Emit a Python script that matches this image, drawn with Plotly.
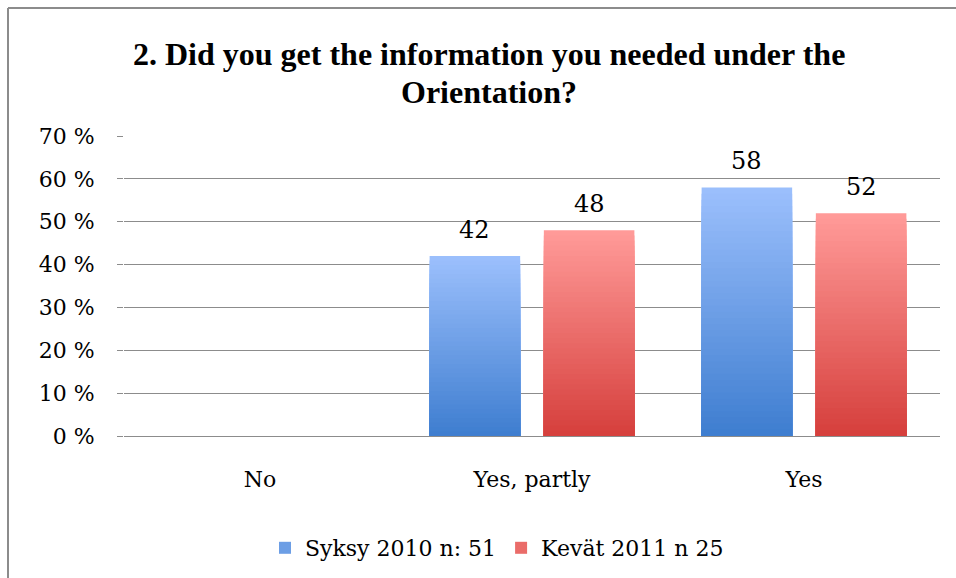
import plotly.graph_objects as go

categories = ["No", "Yes, partly", "Yes"]
series_names = ["Syksy 2010 n: 51", "Kevät 2011 n 25"]
syksy_2010 = [0, 42, 58]
kevat_2011 = [0, 48, 52]
y_tick_values = [0, 10, 20, 30, 40, 50, 60, 70]
y_tick_labels = ["0 %", "10 %", "20 %", "30 %", "40 %", "50 %", "60 %", "70 %"]
title_line1 = "2. Did you get the information you needed under the"
title_line2 = "Orientation?"

series_values = [syksy_2010, kevat_2011]
top_colors = [(155, 191, 252), (255, 154, 152)]
bottom_colors = [(63, 126, 208), (214, 64, 61)]

N = 40
W, H = 956, 578
L, R, T, B = 124, 16, 136, 142
pw, ph = W - L - R, H - T - B

def px_x(x):
    return (x - L) / pw

def px_y(y):
    return (H - B - y) / ph

def lerp(c1, c2, t):
    return "rgb(%d,%d,%d)" % tuple(round(a + (b - a) * t) for a, b in zip(c1, c2))

serif = "DejaVu Serif"
title_font = "Liberation Serif, Times New Roman, serif"
fig = go.Figure()
for s, (name, vals) in enumerate(zip(series_names, series_values)):
    for i in range(N):
        frac = (N - i) / N
        t = i / (N - 1)
        fig.add_trace(go.Bar(
            x=categories,
            y=[v * frac for v in vals],
            name=name,
            offsetgroup=str(s),
            legendgroup=str(s),
            showlegend=(i == N // 2),
            marker=dict(color=lerp(top_colors[s], bottom_colors[s], t), line=dict(width=0)),
            hoverinfo="skip" if i else "x+y+name",
        ))

# data labels above bars
bargap, bargroupgap = 0.16, 0.2075
cat_px = pw / len(categories)
slot_px = cat_px * (1 - bargap) / 2
for s, vals in enumerate(series_values):
    shift = (s - 0.5) * slot_px
    for c, v in zip(categories, vals):
        if v:
            fig.add_annotation(x=c, y=v, text=str(v), showarrow=False, xshift=shift,
                               yanchor="bottom", yshift=10,
                               font=dict(family=serif, size=24, color="#000000"))

# title as two centred lines
for text, cy in ((title_line1, 54), (title_line2, 92)):
    fig.add_annotation(xref="paper", yref="paper", x=px_x(489), y=px_y(cy),
                       xanchor="center", yanchor="middle", showarrow=False,
                       text="<b>" + text + "</b>",
                       font=dict(family=title_font, size=32, color="#000000", weight="bold"))

fig.update_layout(
    width=W, height=H,
    margin=dict(l=L, r=R, t=T, b=B, autoexpand=False),
    paper_bgcolor="white", plot_bgcolor="white",
    barmode="group", bargap=bargap, bargroupgap=bargroupgap,
    legend=dict(orientation="h", x=px_x(497), y=px_y(548), xanchor="center", yanchor="middle",
                font=dict(family=serif, size=22, color="#000000"),
                traceorder="normal"),
    font=dict(family=serif, color="#000000"),
    showlegend=True,
)
fig.update_yaxes(range=[0, 70], tickvals=y_tick_values, ticktext=y_tick_labels,
                 showgrid=True, gridcolor="#8c8c8c", gridwidth=1,
                 zeroline=False, showline=False,
                 ticks="outside", ticklen=6, tickcolor="#8c8c8c",
                 tickfont=dict(family=serif, size=22, color="#000000"),
                 ticklabelstandoff=18)
fig.update_xaxes(showline=True, linecolor="#8c8c8c", linewidth=1, ticks="",
                 tickfont=dict(family=serif, size=22, color="#000000"),
                 ticklabelstandoff=24)

fig.add_shape(type="line", xref="paper", yref="paper", x0=px_x(8), x1=px_x(8), y0=px_y(8), y1=px_y(H + 5),
              line=dict(color="#8c8c8c", width=2))
fig.add_shape(type="line", xref="paper", yref="paper", x0=px_x(8), x1=px_x(W + 5), y0=px_y(8), y1=px_y(8),
              line=dict(color="#8c8c8c", width=2))

fig.write_html("out.html")
